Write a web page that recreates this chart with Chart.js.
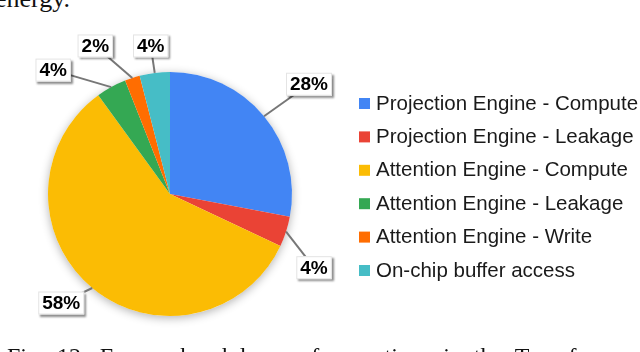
<!DOCTYPE html>
<html>
<head>
<meta charset="utf-8">
<script src="https://cdn.jsdelivr.net/npm/chart.js@4/dist/chart.umd.min.js"></script>
<style>
    html, body { margin: 0; padding: 0; background: #fff; overflow: hidden; }
    #wrap { position: relative; width: 640px; height: 352px; overflow: hidden; }
    #energyChart { position: absolute; left: 0; top: 0; }
    .paper { position: absolute; font-family: "Liberation Serif", "Times New Roman", serif; color: #111; white-space: nowrap; line-height: 1; }
    #above { left: -5px; top: -14.5px; font-size: 26px; }
    #caption { left: 7px; top: 344px; font-size: 24px; word-spacing: 6px; }
</style>
</head>
<body>
<div id="wrap">
    <div class="paper" id="above">energy.</div>
    <canvas id="energyChart" width="640" height="352"></canvas>
    <div class="paper" id="caption">Fig. 12: Energy breakdown of operations in the Transformer</div>
</div>

<script>
// Data
const categories = [
    'Projection Engine - Compute',
    'Projection Engine - Leakage',
    'Attention Engine - Compute',
    'Attention Engine - Leakage',
    'Attention Engine - Write',
    'On-chip buffer access'
];
const shares = [28, 4, 58, 4, 2, 4];
const colors = ['#4285F4', '#EA4335', '#FBBC04', '#34A853', '#FF6D01', '#46BDC6'];

// Where each callout box sits, relative to the slice's outer edge (dx, dy)
const calloutOffsets = [[45, -32], [28, 36], [-31, 15], [-58, -17], [-37, -32], [-4, -27]];

// Soft shadow under the whole pie
const pieShadow = {
    id: 'pieShadow',
    beforeDatasetsDraw(chart) {
        const arc = chart.getDatasetMeta(0).data[0];
        if (!arc) return;
        const ctx = chart.ctx;
        ctx.save();
        ctx.shadowColor = 'rgba(0, 0, 0, 0.3)';
        ctx.shadowBlur = 10;
        ctx.shadowOffsetY = 2;
        ctx.fillStyle = '#fff';
        ctx.beginPath();
        ctx.arc(arc.x, arc.y, arc.outerRadius, 0, Math.PI * 2);
        ctx.fill();
        ctx.restore();
    }
};

// Percentage boxes with leader lines
const callouts = {
    id: 'callouts',
    afterDatasetsDraw(chart, args, opts) {
        const meta = chart.getDatasetMeta(0);
        const ctx = chart.ctx;
        const values = chart.data.datasets[0].data;
        const total = values.reduce((a, b) => a + b, 0);

        ctx.save();
        ctx.font = 'bold 19px "Liberation Sans", Arial, sans-serif';
        ctx.textAlign = 'center';
        ctx.textBaseline = 'middle';

        meta.data.forEach((arc, i) => {
            const mid = (arc.startAngle + arc.endAngle) / 2;
            const ex = arc.x + Math.cos(mid) * arc.outerRadius;
            const ey = arc.y + Math.sin(mid) * arc.outerRadius;
            const bx = ex + opts.offsets[i][0];
            const by = ey + opts.offsets[i][1];

            ctx.strokeStyle = '#777';
            ctx.lineWidth = 2;
            ctx.beginPath();
            ctx.moveTo(ex, ey);
            ctx.lineTo(bx, by);
            ctx.stroke();

            const text = Math.round(values[i] / total * 100) + '%';
            const w = ctx.measureText(text).width + 8;
            const h = 23;

            ctx.save();
            ctx.shadowColor = 'rgba(0, 0, 0, 0.45)';
            ctx.shadowBlur = 2;
            ctx.shadowOffsetX = 2;
            ctx.shadowOffsetY = 2;
            ctx.fillStyle = '#fff';
            ctx.fillRect(bx - w / 2, by - h / 2, w, h);
            ctx.restore();
            ctx.strokeStyle = '#e4e4e4';
            ctx.lineWidth = 1;
            ctx.strokeRect(bx - w / 2 + 0.5, by - h / 2 + 0.5, w - 1, h - 1);

            ctx.fillStyle = '#000';
            ctx.fillText(text, bx, by + 1);
        });
        ctx.restore();
    }
};

// Legend on the right
const sideLegend = {
    id: 'sideLegend',
    afterDraw(chart, args, opts) {
        const ctx = chart.ctx;
        const ds = chart.data.datasets[0];
        ctx.save();
        ctx.font = '20.5px "Liberation Sans", Arial, sans-serif';
        ctx.textBaseline = 'middle';
        chart.data.labels.forEach((label, i) => {
            const y = opts.top + i * opts.rowHeight;
            ctx.fillStyle = ds.backgroundColor[i];
            ctx.fillRect(opts.left, y - 5, 11, 11);
            ctx.fillStyle = '#1a1a1a';
            ctx.fillText(label, opts.left + 17, y + 1);
        });
        ctx.restore();
    }
};

const ctx = document.getElementById('energyChart').getContext('2d');
new Chart(ctx, {
    type: 'pie',
    data: {
        labels: categories,
        datasets: [{
            data: shares,
            backgroundColor: colors,
            borderWidth: 0
        }]
    },
    options: {
        responsive: false,
        animation: false,
        layout: {
            padding: { left: 48, top: 72, right: 348, bottom: 36 }
        },
        plugins: {
            legend: { display: false },
            tooltip: { enabled: false },
            callouts: { offsets: calloutOffsets },
            sideLegend: { left: 359, top: 103, rowHeight: 33.4 }
        }
    },
    plugins: [pieShadow, callouts, sideLegend]
});
</script>
</body>
</html>
